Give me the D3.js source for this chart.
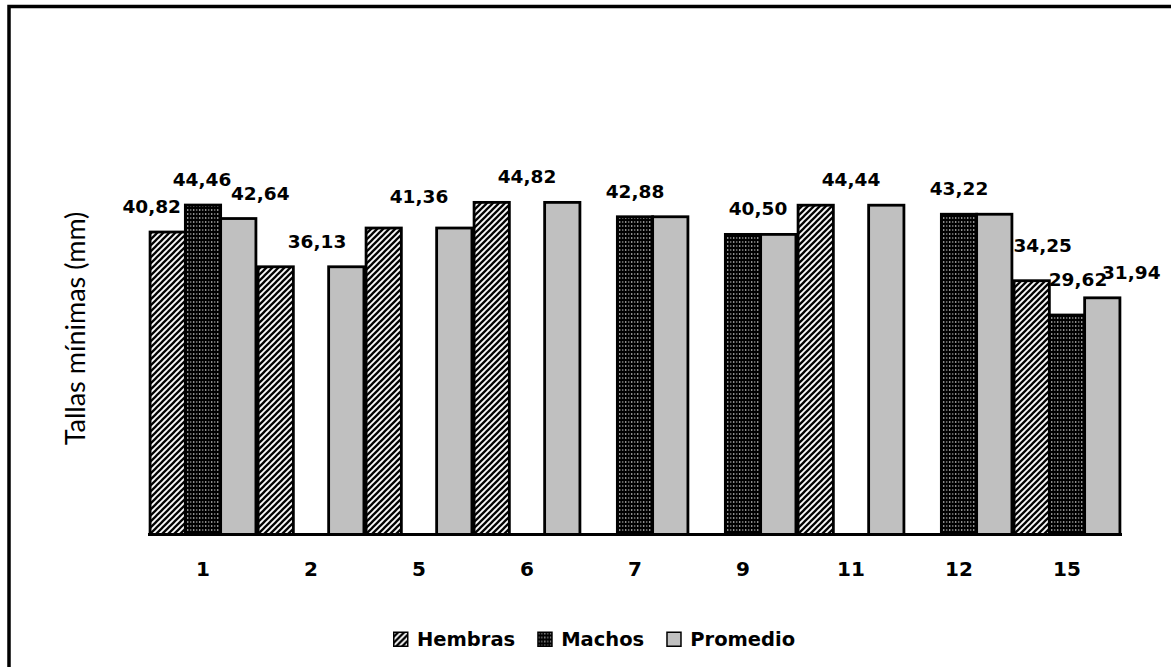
<!DOCTYPE html>
<html>
<head>
<meta charset="utf-8">
<script src="https://cdn.jsdelivr.net/npm/d3@7"></script>
<style>
  html, body { margin: 0; padding: 0; background: #fff; overflow: hidden; }
  svg { display: block; }
</style>
</head>
<body>
<svg id="chart" width="1171" height="667"></svg>
<script>
// Minimum sizes per sampling station (mm)
const categories = ["1", "2", "5", "6", "7", "9", "11", "12", "15"];
const seriesNames = ["Hembras", "Machos", "Promedio"];
const hembras  = [40.82, 36.13, 41.36, 44.82, null,  null,  44.44, null,  34.25];
const machos   = [44.46, null,  null,  null,  42.88, 40.50, null,  43.22, 29.62];
const promedio = [42.64, 36.13, 41.36, 44.82, 42.88, 40.50, 44.44, 43.22, 31.94];
const yTitle = "Tallas mínimas (mm)";

const seriesValues = [hembras, machos, promedio];
const rows = categories.map((c, i) => ({
  cat: c,
  vals: seriesNames.map((s, k) => ({ cat: c, series: s, value: seriesValues[k][i] }))
}));

const svg = d3.select("#chart");
const left = 149, right = 1121, baseY = 534.5, topY = 164;

// Outer frame
svg.append("rect")
  .attr("x", 9).attr("y", 6.5).attr("width", 1300).attr("height", 800)
  .attr("fill", "none").attr("stroke", "#000").attr("stroke-width", 3.5);

// Fill patterns
const defs = svg.append("defs");
const pH = defs.append("pattern").attr("id", "pat-hembras")
  .attr("patternUnits", "userSpaceOnUse").attr("width", 6).attr("height", 6);
pH.append("rect").attr("width", 6).attr("height", 6).attr("fill", "#fff");
pH.append("path").attr("d", "M-1,7 L7,-1 M-4,4 L4,-4 M2,10 L10,2")
  .attr("stroke", "#000").attr("stroke-width", 2.3);

const pM = defs.append("pattern").attr("id", "pat-machos")
  .attr("patternUnits", "userSpaceOnUse").attr("width", 6).attr("height", 4);
pM.append("rect").attr("width", 6).attr("height", 4).attr("fill", "#000");
pM.append("rect").attr("x", 1).attr("y", 1).attr("width", 1.3).attr("height", 2).attr("fill", "#9a9a9a");
pM.append("rect").attr("x", 4).attr("y", 1).attr("width", 1.3).attr("height", 2).attr("fill", "#6a6a6a");

const fills = { Hembras: "url(#pat-hembras)", Machos: "url(#pat-machos)", Promedio: "#c0c0c0" };

// Scales
const x0 = d3.scaleBand().domain(categories).range([left, right])
  .paddingInner(0.02).paddingOuter(0.01);
const x1 = d3.scaleBand().domain(seriesNames).range([0, x0.bandwidth()]);
const y = d3.scaleLinear().domain([0, 50]).range([baseY, topY]);

// Bars
const groups = svg.append("g").selectAll("g").data(rows).join("g")
  .attr("transform", d => `translate(${x0(d.cat)},0)`);
groups.selectAll("rect").data(d => d.vals.filter(v => v.value != null)).join("rect")
  .attr("x", d => x1(d.series))
  .attr("y", d => y(d.value))
  .attr("width", x1.bandwidth())
  .attr("height", d => y(0) - y(d.value))
  .attr("fill", d => fills[d.series])
  .attr("stroke", "#000").attr("stroke-width", 2.8);

// Category axis
const xAxis = svg.append("g").attr("transform", `translate(0,${baseY})`)
  .call(d3.axisBottom(x0).tickSize(0).tickSizeOuter(0).tickPadding(27));
xAxis.select(".domain").attr("stroke", "#000").attr("stroke-width", 3)
  .attr("d", `M${left - 1},0H${right + 1}`);
xAxis.selectAll("text")
  .attr("font-family", "DejaVu Sans, Verdana, sans-serif")
  .attr("font-weight", "bold").attr("font-size", 20).attr("fill", "#000");

// Data labels: one per group when its bars share a value, one per bar otherwise
const fmt = v => v.toFixed(2).replace(".", ",");
const nudge = {
  "1|Hembras": [-16, 0], "1|Machos": [-1, 0], "1|Promedio": [22, 0],
  "15|Hembras": [11, -10], "15|Machos": [11, -10], "15|Promedio": [29, 0],
  "2": [6, 0], "5": [0, -6], "9": [15, 0]
};
const labels = [];
rows.forEach(r => {
  const present = r.vals.filter(v => v.value != null);
  const same = present.every(v => v.value === present[0].value);
  if (same) {
    const n = nudge[r.cat] || [0, 0];
    labels.push({ text: fmt(present[0].value),
      x: x0(r.cat) + x0.bandwidth() / 2 + n[0], y: y(present[0].value) - 19 + n[1] });
  } else {
    present.forEach(v => {
      const n = nudge[r.cat + "|" + v.series] || [0, 0];
      labels.push({ text: fmt(v.value),
        x: x0(r.cat) + x1(v.series) + x1.bandwidth() / 2 + n[0], y: y(v.value) - 19 + n[1] });
    });
  }
});
svg.append("g").selectAll("text").data(labels).join("text")
  .attr("x", d => d.x).attr("y", d => d.y)
  .attr("text-anchor", "middle")
  .attr("font-family", "DejaVu Sans, Verdana, sans-serif")
  .attr("font-weight", "bold").attr("font-size", 18.5).attr("fill", "#000")
  .text(d => d.text);

// Y-axis title
svg.append("text")
  .attr("transform", `translate(85,${(210 + 447) / 2}) rotate(-90)`)
  .attr("text-anchor", "middle")
  .attr("font-family", "Lato, sans-serif").attr("font-size", 27).attr("fill", "#000")
  .text(yTitle);

// Legend
const legend = svg.append("g").attr("transform", "translate(393,631.5)");
let lx = 0;
seriesNames.forEach(s => {
  const g = legend.append("g").attr("transform", `translate(${lx},0)`);
  g.append("rect").attr("x", 0.75).attr("y", 0.75).attr("width", 14).attr("height", 14)
    .attr("fill", fills[s]).attr("stroke", "#000").attr("stroke-width", 1.5);
  const t = g.append("text").attr("x", 24).attr("y", 14.5)
    .attr("font-family", "DejaVu Sans, Verdana, sans-serif")
    .attr("font-weight", "bold").attr("font-size", 19.5).attr("fill", "#000")
    .text(s);
  lx += 24 + t.node().getComputedTextLength() + 22;
});
</script>
</body>
</html>
